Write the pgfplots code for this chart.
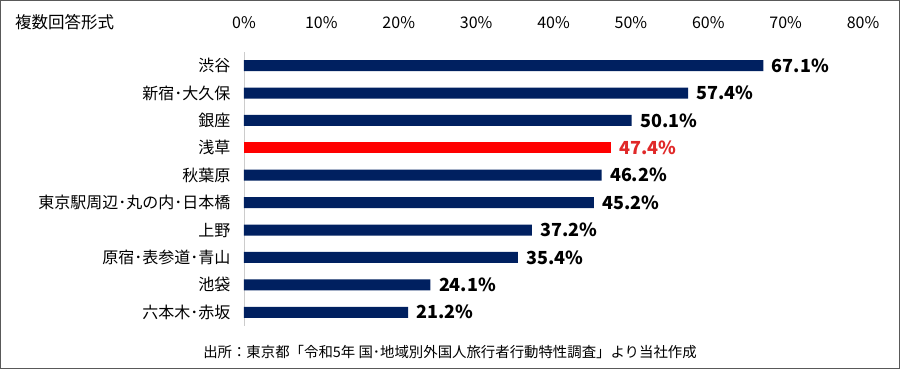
\documentclass[border=0pt]{standalone}
\usepackage{pgfplots}
\pgfplotsset{compat=1.18}
\usepackage{fontspec}
\setmainfont{Noto Sans CJK JP}
\definecolor{navy}{HTML}{002060}
\definecolor{hred}{HTML}{FF0000}
\definecolor{lred}{HTML}{E02828}
\begin{document}
\begin{tikzpicture}[x=1pt,y=1pt]
\draw[gray!70!black, line width=0.8pt] (0.5,0.5) rectangle (899.5,368.5);
\node[anchor=west, inner sep=0pt, font=\fontsize{16.5}{18}\selectfont] at (15,347) {複数回答形式};
\node[font=\fontsize{14.4}{16}\selectfont] at (450,17) {出所：東京都「令和5年 国･地域別外国人旅行者行動特性調査」より当社作成};
\begin{axis}[
  at={(244pt,43pt)}, anchor=south west,
  scale only axis, width=619pt, height=274pt,
  xbar, bar width=11pt, bar shift=0pt,
  xmin=0, xmax=80, ymin=0.5, ymax=10.5,
  axis y line*=left, axis x line*=top,
  x axis line style={draw=none},
  y axis line style={draw=gray!40, line width=0.8pt, -},
  major tick length=0pt,
  xtick={0,10,...,80},
  xticklabel={\pgfmathprintnumber{\tick}\%},
  xticklabel style={font=\fontsize{16}{18}\selectfont, yshift=20pt},
  /pgf/number format/assume math mode=true,
  ytick={1,...,10},
  yticklabels={六本木･赤坂,池袋,原宿･表参道･青山,上野,東京駅周辺･丸の内･日本橋,秋葉原,浅草,銀座,新宿･大久保,渋谷},
  yticklabel style={font=\fontsize{16}{18}\selectfont, xshift=-10pt},
  nodes near coords={\pgfmathprintnumber[fixed,precision=1,fixed zerofill]{\pgfplotspointmeta}\%},
  nodes near coords style={font=\bfseries\fontsize{18}{20}\selectfont, anchor=west, xshift=5pt},
  point meta=x,
]
\addplot[fill=navy, draw=none] coordinates {(67.1,10) (57.4,9) (50.1,8) (46.2,6) (45.2,5) (37.2,4) (35.4,3) (24.1,2) (21.2,1)};
\addplot[fill=hred, draw=none, nodes near coords style={text=lred}] coordinates {(47.4,7)};
\end{axis}
\end{tikzpicture}
\end{document}
